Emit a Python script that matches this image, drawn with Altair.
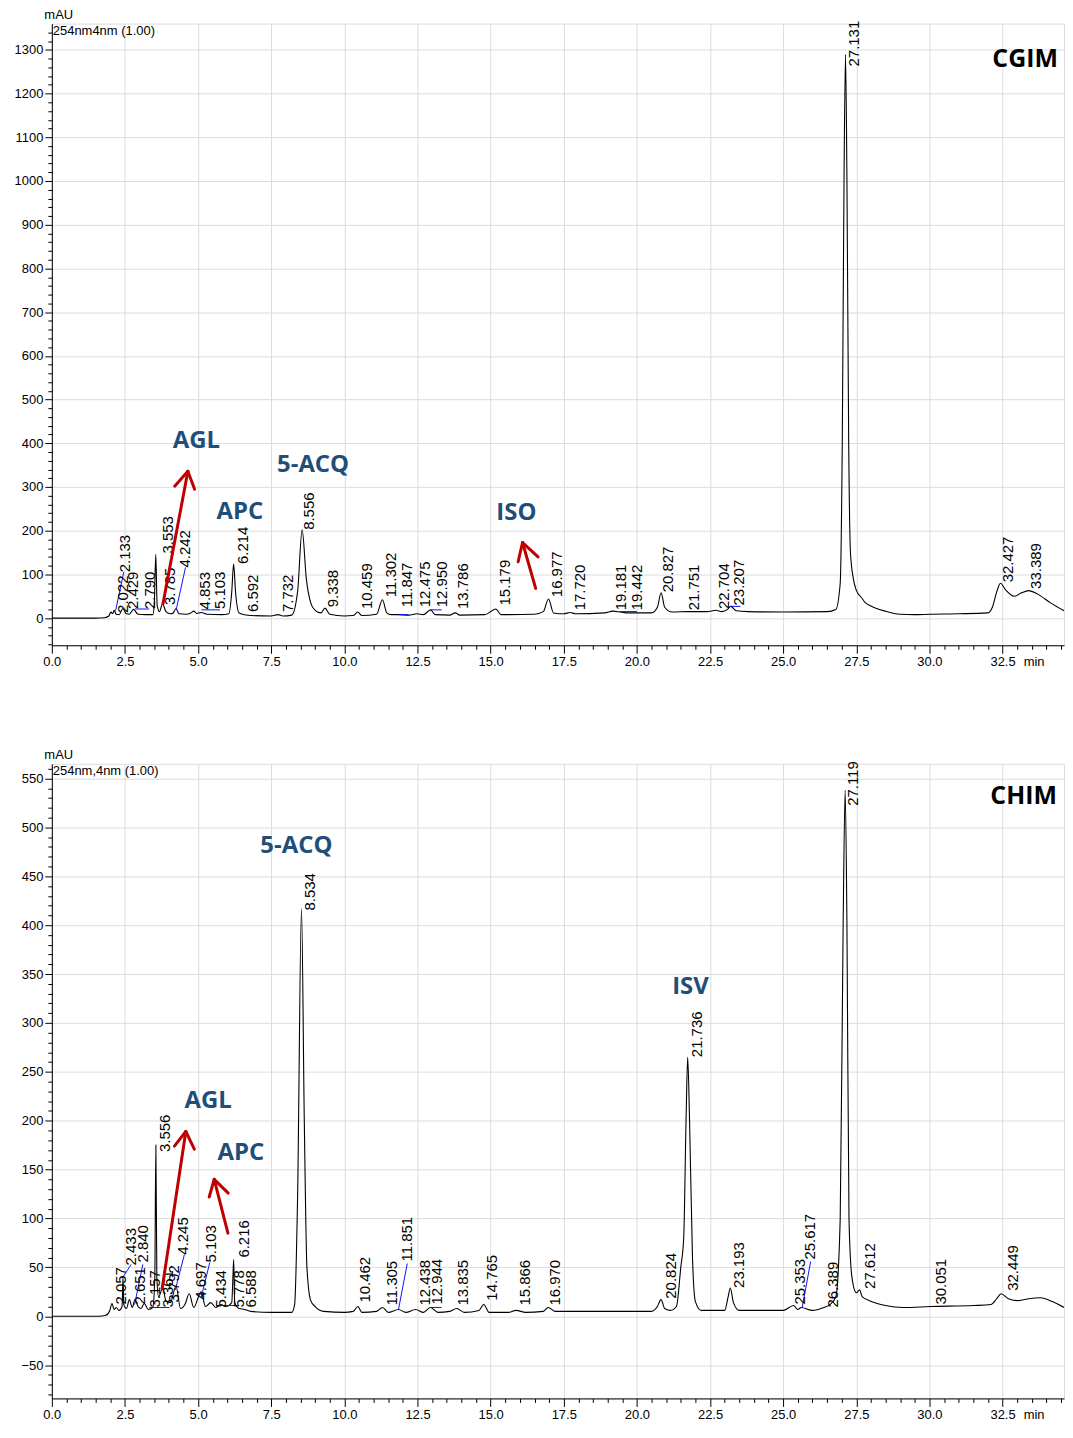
import altair as alt
import pandas as pd

FONT = "Liberation Sans"
ANNO_FONT = "Open Sans"
ANNO_BLUE = "#1F4E79"
ARROW_RED = "#C00000"
X_DOMAIN = [0, 34.6]

# ---------------- CGIM (top) trace ----------------
cgim_t = [0.0, 1.5, 1.8, 1.95, 2.02, 2.08, 2.13, 2.2, 2.3, 2.43, 2.55, 2.65, 2.79, 2.95, 3.2, 3.45,
          3.5, 3.553, 3.6, 3.68, 3.785, 3.9, 4.05, 4.15, 4.242, 4.35, 4.6, 4.75, 4.853, 4.95, 5.103,
          5.3, 5.8, 6.05, 6.15, 6.214, 6.28, 6.4, 6.592, 6.8, 7.5, 7.732, 7.9, 8.2, 8.4, 8.556, 8.7,
          8.85, 9.0, 9.2, 9.338, 9.5, 10.0, 10.3, 10.459, 10.6, 11.1, 11.302, 11.45, 11.6, 11.847,
          12.2, 12.475, 12.7, 12.95, 13.1, 13.6, 13.786, 13.95, 14.8, 15.179, 15.35, 16.5, 16.8,
          16.977, 17.15, 17.5, 17.72, 17.9, 18.9, 19.181, 19.442, 19.7, 20.5, 20.7, 20.827, 20.95,
          21.2, 21.751, 22.4, 22.704, 22.9, 23.1, 23.207, 23.4, 23.8, 25.0, 26.5, 26.8, 26.95, 27.02,
          27.08, 27.131, 27.18, 27.24, 27.3, 27.4, 27.5, 27.7, 27.8, 28.0, 28.5, 29.0, 29.5, 30.0,
          31.0, 32.0, 32.15, 32.3, 32.427, 32.6, 32.9, 33.15, 33.389, 33.7, 34.14, 34.6]
cgim_v = [0, 0, 1, 5, 14, 10, 18, 9, 8, 22, 10, 9, 20, 9, 8, 8,
          30, 146, 30, 15, 33, 15, 10, 12, 22, 10, 9, 12, 16, 11, 13,
          9, 8, 10, 60, 124, 60, 12, 8, 6, 5, 8, 5, 7, 60, 202, 90,
          35, 18, 12, 23, 9, 5, 6, 14, 6, 9, 42, 12, 8, 8,
          7, 10, 8, 19, 8, 7, 12, 7, 8, 21, 8, 9, 15,
          44, 12, 10, 13, 10, 12, 16, 14, 12, 12, 25, 58, 25,
          14, 15, 15, 18, 15, 20, 27, 17, 15, 14, 15, 20, 80, 400,
          1000, 1290, 1000, 400, 150, 90, 64, 45, 36, 28, 16, 9, 8, 9,
          10, 12, 25, 60, 80, 65, 50, 58, 63, 55, 35, 17]

cgim_lab = ["2.022", "2.133", "2.429", "2.790", "3.553", "3.785", "4.242", "4.853", "5.103", "6.214",
            "6.592", "7.732", "8.556", "9.338", "10.459", "11.302", "11.847", "12.475", "12.950",
            "13.786", "15.179", "16.977", "17.720", "19.181", "19.442", "20.827", "21.751", "22.704",
            "23.207", "27.131", "32.427", "33.389"]
cgim_lab_t = [2.18, 2.27, 2.53, 3.12, 3.72, 3.80, 4.31, 4.99, 5.50, 6.30,
              6.64, 7.83, 8.56, 9.36, 10.55, 11.34, 11.91, 12.53, 13.10,
              13.82, 15.25, 17.02, 17.80, 19.23, 19.77, 20.83, 21.72, 22.74,
              23.25, 27.18, 32.44, 33.42]
cgim_lab_v = [12, 105, 21, 21, 148, 30, 116, 20, 21, 124,
              14, 14, 202, 25, 21, 48, 25, 25, 25,
              21, 29, 48, 18, 18, 18, 59, 18, 21,
              29, 1262, 82, 67]

cgim_blue_t1 = [2.18, 2.84, 4.25, 5.11, 11.85, 12.93, 19.40, 23.20]
cgim_blue_v1 = [17, 21, 19, 19, 8, 19, 15, 27]
cgim_blue_t2 = [2.46, 3.33, 4.57, 5.75, 12.19, 13.33, 20.00, 23.54]
cgim_blue_v2 = [106, 21, 116, 19, 8, 19, 15, 27]

cgim_arrow_t1 = [3.80, 4.65, 4.65, 16.54, 16.09, 16.09]
cgim_arrow_v1 = [33, 336, 336, 68, 173, 173]
cgim_arrow_t2 = [4.65, 4.20, 4.88, 16.09, 15.94, 16.62]
cgim_arrow_v2 = [336, 302, 295, 173, 129, 140]

cgim_anno = ["AGL", "APC", "5-ACQ", "ISO"]
cgim_anno_t = [4.94, 6.43, 8.93, 15.88]
cgim_anno_v = [405, 243, 351, 241]
cgim_name = "CGIM"
cgim_name_t = 33.27
cgim_name_v = 1280

# ---------------- CHIM (bottom) trace ----------------
chim_t = [0.0, 1.6, 1.85, 1.98, 2.057, 2.13, 2.2, 2.3, 2.4, 2.433, 2.46, 2.55, 2.651, 2.75, 2.84,
          2.95, 3.05, 3.157, 3.3, 3.45, 3.52, 3.556, 3.59, 3.65, 3.792, 3.9, 4.05, 4.245, 4.4, 4.55,
          4.697, 4.85, 5.103, 5.25, 5.434, 5.6, 5.778, 5.95, 6.15, 6.19, 6.216, 6.25, 6.4, 6.588,
          6.8, 7.5, 8.2, 8.3, 8.4, 8.534, 8.63, 8.72, 8.85, 9.0, 9.3, 10.0, 10.3, 10.462, 10.6,
          11.1, 11.305, 11.5, 11.851, 12.1, 12.438, 12.7, 12.944, 13.2, 13.6, 13.835, 14.1, 14.6,
          14.765, 14.95, 15.6, 15.866, 16.2, 16.8, 16.97, 17.2, 18.5, 19.5, 20.5, 20.7, 20.824,
          20.95, 21.15, 21.35, 21.5, 21.6, 21.68, 21.736, 21.8, 21.9, 22.0, 22.2, 23.0, 23.12,
          23.193, 23.3, 23.5, 25.0, 25.353, 25.5, 25.617, 26.0, 26.389, 26.6, 26.8, 26.95, 27.05,
          27.119, 27.18, 27.25, 27.35, 27.5, 27.612, 27.7, 27.95, 28.5, 29.1, 30.051, 31.5, 32.1,
          32.3, 32.449, 32.7, 33.05, 33.4, 33.8, 34.2, 34.6]
chim_v = [0, 0, 1, 6, 13, 7, 9, 6, 10, 40, 12, 8, 17, 9, 17,
          10, 8, 13, 7, 9, 40, 175, 40, 20, 29, 16, 14, 31, 8, 12,
          23, 9, 25, 10, 14, 9, 12, 10, 14, 40, 58, 14, 8, 7,
          5, 4, 4, 12, 120, 417, 200, 50, 16, 10, 5, 4, 5, 10, 4,
          5, 9, 4, 7, 4, 7, 4, 9, 4, 5, 8, 4, 6,
          12, 4, 4, 6, 4, 5, 9, 5, 5, 5, 5, 10, 17,
          8, 6, 10, 50, 80, 200, 265, 200, 60, 15, 6, 6, 20,
          29, 14, 6, 6, 11, 7, 9, 6, 9, 12, 20, 100, 400,
          538, 400, 100, 40, 24, 27, 20, 16, 11, 9, 10, 11, 12,
          18, 23, 18, 16, 18, 19, 15, 9]

chim_lab = ["2.057", "2.433", "2.651", "2.840", "3.157", "3.556", "3.361", "3.792", "4.245", "4.697",
            "5.103", "5.434", "5.778", "6.216", "6.588", "8.534", "10.462", "11.305", "11.851",
            "12.438", "12.944", "13.835", "14.765", "15.866", "16.970", "20.824", "21.736", "23.193",
            "25.353", "25.617", "26.389", "27.119", "27.612", "30.051", "32.449"]
chim_lab_t = [2.14, 2.48, 2.76, 2.88, 3.28, 3.62, 3.73, 3.95, 4.24, 4.87,
              5.21, 5.55, 6.16, 6.33, 6.57, 8.58, 10.48, 11.39, 11.90,
              12.53, 12.92, 13.82, 14.80, 15.93, 16.97, 20.92, 21.83, 23.25,
              25.35, 25.69, 26.48, 27.16, 27.73, 30.17, 32.61]
chim_lab_v = [12, 52, 12, 55, 9, 168, 9, 14, 63, 17,
              55, 9, 9, 60, 9, 415, 14, 11, 56,
              11, 12, 11, 16, 11, 11, 18, 265, 29,
              12, 58, 9, 522, 28, 12, 26]

chim_blue_t1 = [2.41, 2.83, 3.34, 4.22, 5.10, 5.78, 11.85, 12.96, 25.65]
chim_blue_v1 = [39, 12, 9, 27, 19, 11, 7, 9, 9]
chim_blue_t2 = [2.71, 3.11, 4.02, 4.53, 5.40, 6.29, 12.15, 13.32, 25.94]
chim_blue_v2 = [53, 53, 9, 63, 55, 11, 54, 9, 56]

chim_arrow_t1 = [3.77, 4.58, 4.58, 6.02, 5.55, 5.55]
chim_arrow_v1 = [28, 189, 189, 85, 140, 140]
chim_arrow_t2 = [4.58, 4.19, 4.87, 5.55, 5.38, 6.03]
chim_arrow_v2 = [189, 174, 171, 140, 122, 126]

chim_anno = ["5-ACQ", "AGL", "APC", "ISV"]
chim_anno_t = [8.36, 5.34, 6.46, 21.83]
chim_anno_v = [481, 220, 167, 337]
chim_name = "CHIM"
chim_name_t = 33.22
chim_name_v = 532

X_TICKS = [i * 0.5 for i in range(70)]


def x_axis():
    major = "datum.value % 2.5 === 0"
    return alt.Axis(
        values=X_TICKS,
        labelExpr=f"{major} ? format(datum.value, '.1f') : ''",
        tickSize={"condition": {"test": major, "value": 8}, "value": 4},
        grid=True, gridColor="#dcdcdc", gridWidth=1,
        gridOpacity={"condition": {"test": major, "value": 1}, "value": 0},
        domainColor="black", domainWidth=1, tickColor="black", tickWidth=1,
        labelFont=FONT, labelFontSize=13, labelColor="black", labelPadding=2,
        labelFlush=False, labelOverlap=False,
        title="min", titleFont=FONT, titleFontSize=13, titleFontWeight="normal",
        titleColor="black", titleAlign="left", titleBaseline="top", titleX=975, titleY=10,
    )


def y_axis(values, major):
    test = f"datum.value % {major} === 0"
    return alt.Axis(
        values=values, format="d",
        labelExpr=f"{test} ? datum.label : ''",
        tickSize={"condition": {"test": test, "value": 7}, "value": 4},
        grid=True, gridColor="#dcdcdc", gridWidth=1,
        gridOpacity={"condition": {"test": test, "value": 1}, "value": 0},
        domainColor="black", domainWidth=1, tickColor="black", tickWidth=1,
        labelFont=FONT, labelFontSize=13, labelColor="black", labelPadding=2,
        labelOverlap=False,
        title="mAU", titleFont=FONT, titleFontSize=13, titleFontWeight="normal",
        titleColor="black", titleAngle=0, titleAlign="left", titleBaseline="bottom",
        titleX=-8, titleY=-2,
    )


def panel(tr_t, tr_v, lab, lab_t, lab_v, b_t1, b_v1, b_t2, b_v2, a_t1, a_v1, a_t2, a_v2,
          an, an_t, an_v, nm, nm_t, nm_v, ydom, yvals, ymajor, height, header):
    xs = alt.Scale(domain=X_DOMAIN, nice=False, zero=False)
    ys = alt.Scale(domain=ydom, nice=False, zero=False)
    xe = alt.X("t:Q", scale=xs, axis=x_axis())
    ye = alt.Y("v:Q", scale=ys, axis=y_axis(yvals, ymajor))

    trace = alt.Chart(pd.DataFrame({"t": tr_t, "v": tr_v})).mark_line(
        color="black", strokeWidth=1.1, interpolate="monotone", clip=True
    ).encode(x=xe, y=ye)

    blue = alt.Chart(pd.DataFrame({"t": b_t1, "v": b_v1, "t2": b_t2, "v2": b_v2})).mark_rule(
        color="#1010ff", strokeWidth=1
    ).encode(x=xe, y=ye, x2="t2:Q", y2="v2:Q")

    labels = alt.Chart(pd.DataFrame({"t": lab_t, "v": lab_v, "name": lab})).mark_text(
        angle=270, align="left", baseline="top", font=FONT, fontSize=15, color="black"
    ).encode(x=xe, y=ye, text="name:N")

    arrows = alt.Chart(pd.DataFrame({"t": a_t1, "v": a_v1, "t2": a_t2, "v2": a_v2})).mark_rule(
        color=ARROW_RED, strokeWidth=3, strokeCap="round"
    ).encode(x=xe, y=ye, x2="t2:Q", y2="v2:Q")

    annos = alt.Chart(pd.DataFrame({"t": an_t, "v": an_v, "txt": an})).mark_text(
        font=ANNO_FONT, fontSize=24, fontWeight="bold", align="center", baseline="middle",
        color=ANNO_BLUE
    ).encode(x=xe, y=ye, text="txt:N")

    name = alt.Chart(pd.DataFrame({"t": [nm_t], "v": [nm_v], "txt": [nm]})).mark_text(
        font=ANNO_FONT, fontSize=25, fontWeight="bold", align="center", baseline="middle",
        color="black"
    ).encode(x=xe, y=ye, text="txt:N")

    head = alt.Chart(pd.DataFrame({"txt": [header]})).mark_text(
        align="left", baseline="top", font=FONT, fontSize=13, color="black"
    ).encode(x=alt.value(1), y=alt.value(1), text="txt:N")

    return alt.layer(trace, blue, labels, arrows, annos, name, head).properties(
        width=1016, height=height
    )


top = panel(cgim_t, cgim_v, cgim_lab, cgim_lab_t, cgim_lab_v,
            cgim_blue_t1, cgim_blue_v1, cgim_blue_t2, cgim_blue_v2,
            cgim_arrow_t1, cgim_arrow_v1, cgim_arrow_t2, cgim_arrow_v2,
            cgim_anno, cgim_anno_t, cgim_anno_v, cgim_name, cgim_name_t, cgim_name_v,
            [-62, 1360], list(range(-60, 1341, 20)), 100, 624, "254nm4nm (1.00)")

bottom = panel(chim_t, chim_v, chim_lab, chim_lab_t, chim_lab_v,
               chim_blue_t1, chim_blue_v1, chim_blue_t2, chim_blue_v2,
               chim_arrow_t1, chim_arrow_v1, chim_arrow_t2, chim_arrow_v2,
               chim_anno, chim_anno_t, chim_anno_v, chim_name, chim_name_t, chim_name_v,
               [-84, 565], list(range(-80, 561, 10)), 50, 637, "254nm,4nm (1.00)")

chart = alt.vconcat(top, bottom, spacing=79).properties(
    padding={"left": 5, "top": -3, "right": 0, "bottom": 0}
).configure_view(stroke="#7f7f7f", strokeWidth=1.5).configure(background="white")

chart.save("out.html", embed_options={"renderer": "svg", "actions": False})
